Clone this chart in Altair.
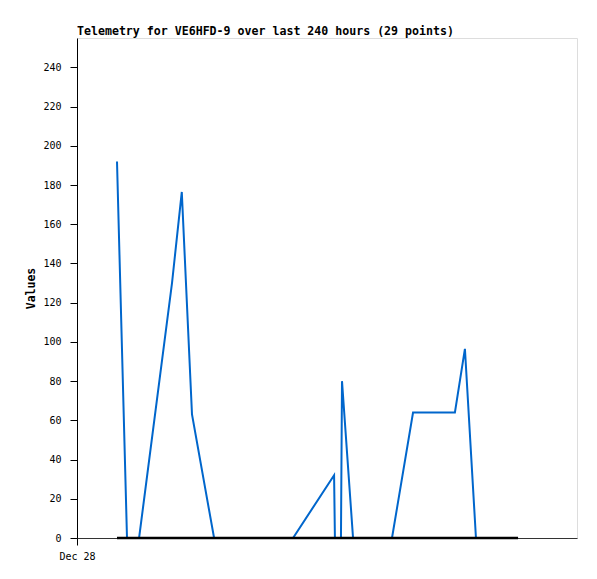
import altair as alt
import pandas as pd

# hours since Dec 28 00:00 (x axis spans 240 hours)
hours = [19.2, 24.0, 29.8, 45.6, 50.3, 55.2, 65.8, 103.7, 123.4, 123.8,
         126.7, 127.2, 132.5, 151.2, 161.3, 181.4, 186.2, 191.5, 211.7]
values = [192, 0, 0, 130, 176.5, 63, 0, 0, 32, 0,
          0, 80, 0, 0, 64, 64, 96.5, 0, 0]
zero_series = [0] * len(hours)

x_tick_values = [0]
x_tick_labels = ["Dec 28"]
y_ticks = list(range(0, 241, 20))

df = pd.DataFrame({"h": hours, "v": values, "z": zero_series, "i": range(len(hours))})

MONO = "DejaVu Sans Mono"

x_enc = alt.X(
    "h:Q",
    scale=alt.Scale(domain=[0, 240], nice=False, zero=False),
    axis=alt.Axis(
        values=x_tick_values,
        labelExpr="'" + x_tick_labels[0] + "'",
        title=None,
        grid=False,
        tickSize=7,
        tickColor="black",
        domainColor="#333",
        labelPadding=6,
        labelFlush=False,
        labelAlign="center",
        labelFont=MONO,
        labelFontSize=10,
        labelColor="black",
    ),
)

y_axis = alt.Axis(
    values=y_ticks,
    title="Values",
    grid=False,
    tickSize=7,
    tickColor="black",
    domainColor="black",
    labelPadding=9,
    labelFont=MONO,
    labelFontSize=10,
    labelColor="black",
    titleFont=MONO,
    titleFontSize=11.5,
    titleFontWeight="bold",
    titleColor="black",
    titleX=-46,
    titleY=250,
    titleAngle=-90,
    titleBaseline="middle",
    titleAlign="center",
)

blue = alt.Chart(df).mark_line(color="#0066cc", strokeWidth=2, clip=True).encode(
    x=x_enc,
    y=alt.Y("v:Q", scale=alt.Scale(domain=[0, 255], nice=False), axis=y_axis),
    order="i:Q",
)

black = alt.Chart(df).mark_line(color="black", strokeWidth=2.5).encode(
    x=alt.X("h:Q"),
    y=alt.Y("z:Q"),
    order="i:Q",
)

chart = (
    alt.layer(blue, black)
    .properties(
        width=500,
        height=500,
        title=alt.TitleParams(
            "Telemetry for VE6HFD-9 over last 240 hours (29 points)",
            anchor="start",
            frame="group",
            font=MONO,
            fontSize=11.6,
            fontWeight="bold",
            color="black",
            baseline="alphabetic",
            offset=4,
            dy=13,
        ),
        autosize=alt.AutoSizeParams(type="none"),
        padding={"left": 69, "top": 30, "right": 12, "bottom": 33},
    )
    .configure_view(stroke="#333", strokeWidth=1)
    .configure(background="white")
)

chart.save("out.html", embed_options={"renderer": "svg", "actions": False})
